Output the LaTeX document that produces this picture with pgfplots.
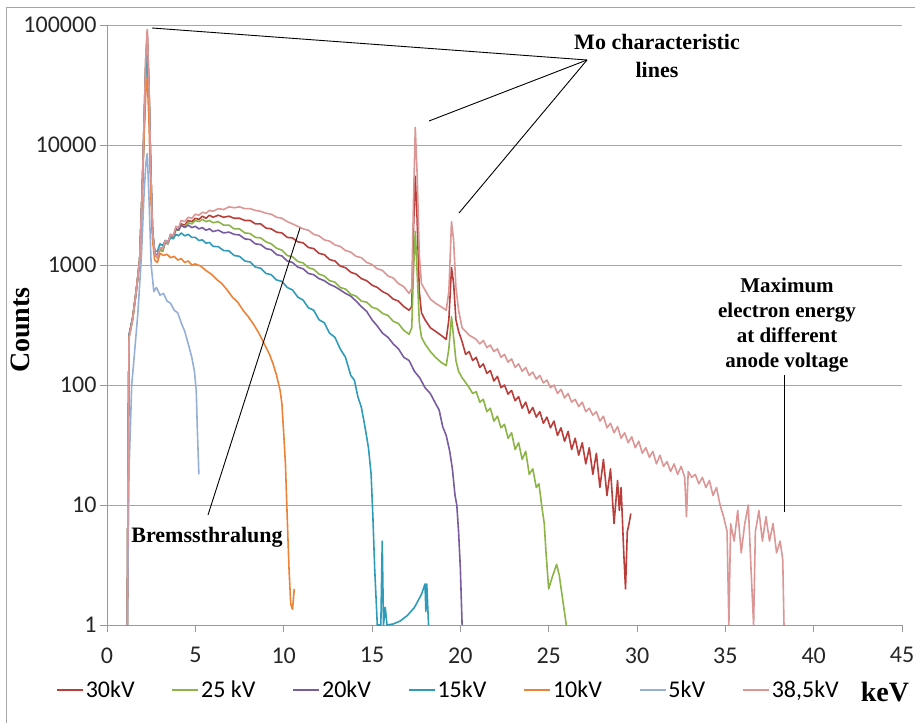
\documentclass[border=0pt]{standalone}
\usepackage{pgfplots}
\pgfplotsset{compat=1.18}
\usepackage{fontspec}
\setmainfont{Liberation Serif}
\newfontfamily\calibri{Carlito}
\definecolor{c30}{RGB}{185,62,58}
\definecolor{c25}{RGB}{140,180,70}
\definecolor{c20}{RGB}{120,92,160}
\definecolor{c15}{RGB}{48,155,185}
\definecolor{c10}{RGB}{236,130,55}
\definecolor{c5}{RGB}{150,175,215}
\definecolor{c385}{RGB}{220,150,150}
\begin{document}
\begin{tikzpicture}
\path[use as bounding box] (-107pt,-98pt) rectangle (808pt,625pt);
\draw[gray!70, line width=0.8pt] (-101pt,-98pt) -- (-101pt,618pt) -- (808pt,618pt);
\begin{axis}[
 scale only axis, width=795pt, height=600pt,
 xmin=0, xmax=45, ymin=1, ymax=100000, ymode=log,
 axis x line*=bottom, axis y line*=left,
 axis line style={gray!80, line width=0.8pt, -},
 xtick={0,5,...,45},
 ytick={1,10,100,1000,10000,100000},
 yticklabels={1,10,100,1000,10000,100000},
 yminorticks=false, xminorticks=false,
 tick align=outside, major tick length=7pt,
 tick style={gray!80, line width=0.8pt},
 ymajorgrids, major grid style={gray!70, line width=0.8pt},
 ticklabel style={font=\calibri\fontsize{24}{24}\selectfont, text=black!85},
 xticklabel style={yshift=-12pt},
 /pgf/number format/assume math mode=true,
 legend columns=-1,
 legend style={draw=none, fill=none, at={(-0.0642,-0.1083)}, anchor=west,
   font=\calibri\fontsize{24}{24}\selectfont, inner sep=0pt,
   nodes={inner sep=2pt},
   /tikz/every even column/.append style={column sep=35pt}},
 legend image code/.code={\draw[#1, line width=1.6pt] (0pt,0pt) -- (26pt,0pt);},
 every axis plot/.append style={line width=1.6pt, line join=round},
]
% 30 kV
\addplot[c30] coordinates {
(1.15,1)(1.2,30)(1.25,260)(1.45,360)(1.65,600)(1.85,1100)(2.0,4500)(2.1,16000)(2.2,55000)(2.28,88000)(2.38,30000)(2.48,6000)(2.58,1900)(2.7,1250)(2.85,1150)
(3.0,1350)(3.15,1300)(3.3,1550)(3.45,1500)(3.6,1750)(3.75,1700)(3.9,2000)(4.05,1950)(4.2,2200)(4.4,2150)(4.6,2350)(4.8,2300)(5.0,2450)(5.2,2400)(5.4,2550)(5.6,2450)(5.8,2600)(6.0,2500)(6.3,2600)(6.6,2500)(6.9,2550)(7.2,2450)(7.5,2450)(7.8,2350)(8.1,2350)(8.4,2200)(8.7,2200)(9.0,2030)(9.3,2000)(9.6,1880)(9.9,1850)
(10.2,1700)(10.5,1680)(10.8,1560)(11.1,1530)(11.4,1400)(11.7,1370)(12.0,1250)(12.3,1220)(12.6,1110)(12.9,1080)(13.2,980)(13.5,950)(13.8,870)(14.1,840)(14.4,770)(14.7,740)(15.0,680)(15.3,650)(15.6,600)(15.9,570)(16.2,520)(16.5,500)(16.8,450)(17.1,420)
(17.25,450)(17.35,2000)(17.45,5500)(17.55,2500)(17.68,600)(17.8,400)(18.0,350)(18.3,300)(18.6,280)(18.9,260)(19.2,240)(19.35,350)(19.5,950)(19.62,700)(19.75,350)(19.9,280)
(20.1,230)(20.3,180)(20.5,190)(20.7,160)(20.9,170)(21.1,140)(21.3,150)(21.5,125)(21.7,132)(21.9,108)(22.1,118)(22.3,95)(22.5,100)(22.7,84)(22.9,90)(23.1,74)(23.3,80)(23.5,64)(23.7,72)(23.9,58)(24.1,65)(24.3,54)(24.5,60)(24.7,48)(24.9,54)(25.1,44)(25.3,50)(25.5,38)(25.7,44)(25.9,34)(26.1,41)(26.3,29)(26.5,36)(26.7,26)(26.9,33)(27.1,22)(27.3,30)(27.5,18)(27.7,27)(27.9,14)(28.1,24)(28.3,12)(28.5,20)(28.7,7)(28.9,16)(29.0,9)(29.1,14)(29.25,4)(29.35,2)(29.45,6)(29.55,7)(29.65,8.5)
};
\addlegendentry{30kV}
% 25 kV
\addplot[c25] coordinates {
(1.15,1)(1.2,30)(1.25,260)(1.45,360)(1.65,600)(1.85,1100)(2.0,4500)(2.1,15000)(2.2,50000)(2.28,75000)(2.38,28000)(2.48,6000)(2.58,1900)(2.7,1250)(2.85,1150)
(3.0,1350)(3.15,1300)(3.3,1550)(3.45,1500)(3.6,1750)(3.75,1700)(3.9,1950)(4.05,1950)(4.2,2150)(4.4,2100)(4.6,2250)(4.8,2200)(5.0,2350)(5.2,2300)(5.4,2400)(5.6,2300)(5.8,2350)(6.0,2250)(6.3,2300)(6.6,2150)(6.9,2150)(7.2,2000)(7.5,2000)(7.8,1850)(8.1,1830)(8.4,1700)(8.7,1680)(9.0,1560)(9.3,1500)(9.6,1380)(9.9,1330)
(10.2,1200)(10.5,1170)(10.8,1070)(11.1,1040)(11.4,950)(11.7,920)(12.0,840)(12.3,810)(12.6,740)(12.9,720)(13.2,650)(13.5,630)(13.8,570)(14.1,550)(14.4,500)(14.7,490)(15.0,445)(15.3,430)(15.6,395)(15.9,380)(16.2,340)(16.5,325)(16.8,285)(17.1,265)
(17.25,300)(17.35,900)(17.45,1900)(17.55,900)(17.68,330)(17.8,250)(18.0,220)(18.3,190)(18.6,170)(18.9,155)(19.2,145)(19.35,200)(19.5,370)(19.62,250)(19.75,160)(19.9,130)
(20.1,115)(20.3,105)(20.5,95)(20.7,85)(20.9,88)(21.1,72)(21.3,76)(21.5,60)(21.7,64)(21.9,50)(22.1,55)(22.3,44)(22.5,47)(22.7,36)(22.9,40)(23.1,29)(23.3,33)(23.5,24)(23.7,28)(23.9,18)(24.1,20)(24.3,14)(24.45,15)(24.6,10)(24.75,7)(24.85,4)(25.0,2)(25.2,2.5)(25.45,3.2)(25.6,2.6)(25.8,1.6)(26.0,1)
};
\addlegendentry{25 kV}
% 20 kV
\addplot[c20] coordinates {
(1.15,1)(1.2,30)(1.25,260)(1.45,360)(1.65,600)(1.85,1100)(2.0,4500)(2.1,14000)(2.2,45000)(2.28,70000)(2.38,26000)(2.48,6000)(2.58,1900)(2.7,1250)(2.85,1200)
(3.0,1400)(3.15,1350)(3.3,1600)(3.45,1550)(3.6,1800)(3.75,1750)(3.9,2000)(4.05,1950)(4.2,2150)(4.4,2050)(4.6,2150)(4.8,2050)(5.0,2100)(5.2,2000)(5.4,2050)(5.6,1950)(5.8,2000)(6.0,1900)(6.3,1950)(6.6,1850)(6.9,1880)(7.2,1800)(7.5,1780)(7.8,1650)(8.1,1630)(8.4,1500)(8.7,1480)(9.0,1370)(9.3,1340)(9.6,1220)(9.9,1190)
(10.2,1080)(10.5,1050)(10.8,960)(11.1,930)(11.4,850)(11.7,830)(12.0,770)(12.3,740)(12.6,690)(12.9,660)(13.2,620)(13.5,580)(13.8,550)(14.1,500)(14.4,450)(14.7,410)(15.0,350)(15.3,310)(15.6,270)(15.9,250)(16.2,220)(16.5,200)(16.8,170)(17.1,160)(17.4,130)(17.7,115)(18.0,95)(18.3,85)(18.6,70)(18.8,62)(19.0,45)(19.2,38)(19.4,28)(19.55,20)(19.7,12)(19.8,10)(19.9,6)(20.0,3)(20.1,1)
};
\addlegendentry{20kV}
% 15 kV
\addplot[c15] coordinates {
(1.15,1)(1.2,30)(1.25,260)(1.45,360)(1.65,600)(1.85,1100)(2.0,4500)(2.1,13000)(2.2,40000)(2.28,60000)(2.38,24000)(2.48,5500)(2.58,1900)(2.7,1300)(2.85,1300)
(3.0,1500)(3.15,1450)(3.3,1600)(3.45,1550)(3.6,1700)(3.75,1650)(3.9,1800)(4.05,1750)(4.2,1850)(4.4,1750)(4.6,1800)(4.8,1700)(5.0,1700)(5.2,1600)(5.4,1620)(5.6,1520)(5.8,1540)(6.0,1430)(6.3,1420)(6.6,1320)(6.9,1310)(7.2,1200)(7.5,1180)(7.8,1080)(8.1,1060)(8.4,960)(8.7,940)(9.0,850)(9.3,830)(9.6,750)(9.9,730)
(10.2,650)(10.5,620)(10.8,540)(11.1,510)(11.4,440)(11.7,420)(12.0,350)(12.3,330)(12.6,270)(12.9,250)(13.2,200)(13.5,170)(13.8,120)(14.0,110)(14.2,80)(14.4,65)(14.6,45)(14.8,30)(14.95,18)(15.05,8)(15.15,3)(15.3,1)(15.5,1)(15.58,5)(15.65,1)(15.75,1.4)(15.85,1)(16.2,1.02)(16.6,1.08)(17.0,1.2)(17.4,1.4)(17.8,1.8)(18.0,2.2)(18.05,1.3)(18.1,2.2)(18.2,1)
};
\addlegendentry{15kV}
% 10 kV
\addplot[c10] coordinates {
(1.15,1)(1.2,30)(1.25,250)(1.45,350)(1.65,600)(1.85,1100)(2.0,4000)(2.1,12000)(2.2,28000)(2.28,36000)(2.38,15000)(2.48,4000)(2.58,1600)(2.7,1100)(2.85,1050)
(3.0,1250)(3.2,1200)(3.4,1230)(3.6,1150)(3.8,1180)(4.0,1100)(4.2,1130)(4.4,1050)(4.6,1080)(4.8,1000)(5.0,1020)(5.3,980)(5.6,900)(5.9,840)(6.2,760)(6.5,700)(6.8,620)(7.1,540)(7.4,490)(7.7,420)(8.0,370)(8.3,320)(8.6,270)(8.9,220)(9.2,180)(9.4,150)(9.6,120)(9.8,90)(9.9,70)(10.0,40)(10.1,22)(10.2,8)(10.3,3)(10.4,1.5)(10.5,1.35)(10.6,2.0)
};
\addlegendentry{10kV}
% 5 kV
\addplot[c5] coordinates {
(1.15,1)(1.25,20)(1.4,100)(1.55,180)(1.75,400)(1.95,1200)(2.1,4000)(2.2,7000)(2.28,8500)(2.38,3500)(2.5,1000)(2.65,600)(2.8,650)(3.0,560)(3.2,580)(3.4,500)(3.6,480)(3.8,420)(4.0,400)(4.2,330)(4.4,280)(4.6,220)(4.8,170)(4.95,130)(5.05,90)(5.12,40)(5.2,18)
};
\addlegendentry{5kV}
% 38.5 kV
\addplot[c385] coordinates {
(1.15,1)(1.2,30)(1.25,250)(1.45,350)(1.65,600)(1.85,1100)(2.0,4500)(2.1,16000)(2.2,55000)(2.28,92000)(2.38,30000)(2.48,6000)(2.58,1900)(2.7,1250)(2.85,1150)
(3.0,1400)(3.15,1350)(3.3,1600)(3.45,1550)(3.6,1800)(3.75,1750)(3.9,2100)(4.05,2050)(4.2,2350)(4.4,2300)(4.6,2500)(4.8,2450)(5.0,2650)(5.2,2600)(5.4,2750)(5.6,2700)(5.8,2850)(6.0,2800)(6.3,2950)(6.6,2900)(6.9,3050)(7.2,3000)(7.5,3050)(7.8,2950)(8.1,2950)(8.4,2850)(8.7,2800)(9.0,2700)(9.3,2650)(9.6,2500)(9.9,2450)
(10.2,2300)(10.5,2200)(10.8,2100)(11.1,2000)(11.4,1950)(11.7,1800)(12.0,1750)(12.3,1620)(12.6,1580)(12.9,1470)(13.2,1430)(13.5,1320)(13.8,1280)(14.1,1180)(14.4,1150)(14.7,1050)(15.0,1010)(15.3,930)(15.6,900)(15.9,810)(16.2,780)(16.5,700)(16.8,660)(17.1,580)
(17.25,640)(17.35,3500)(17.45,14000)(17.55,6000)(17.68,1200)(17.8,700)(18.0,620)(18.3,520)(18.6,480)(18.9,450)(19.2,420)(19.35,600)(19.5,2300)(19.62,1600)(19.75,650)(19.9,420)
(20.1,300)(20.3,280)(20.5,260)(20.7,250)(20.9,240)(21.1,220)(21.3,235)(21.5,205)(21.7,215)(21.9,190)(22.1,200)(22.3,170)(22.5,180)(22.7,155)(22.9,165)(23.1,140)(23.3,150)(23.5,130)(23.7,140)(23.9,120)(24.1,128)(24.3,112)(24.5,120)(24.7,104)(24.9,110)(25.1,95)(25.3,100)(25.5,85)(25.7,92)(25.9,78)(26.1,85)(26.3,72)(26.5,76)(26.7,66)(26.9,72)(27.1,60)(27.3,64)(27.5,56)(27.7,60)(27.9,50)(28.1,55)(28.3,44)(28.5,48)(28.7,40)(28.9,45)(29.1,36)(29.3,40)(29.5,33)(29.7,37)(29.9,30)
(30.1,34)(30.3,27)(30.5,30)(30.7,25)(30.9,28)(31.1,22)(31.3,26)(31.5,21)(31.7,23)(31.9,19)(32.1,22)(32.3,18)(32.5,21)(32.7,17)(32.8,8)(32.9,19)(33.1,17)(33.3,18)(33.5,15)(33.7,17)(33.9,14)(34.1,16)(34.3,12)(34.5,14)(34.7,10)(34.9,8)(35.1,6)(35.2,1)(35.3,7)(35.5,5)(35.7,9)(35.9,4)(36.1,7)(36.3,10)(36.45,3)(36.6,1)(36.7,6)(36.9,9)(37.1,5)(37.3,8)(37.5,5)(37.7,7)(37.9,4)(38.1,5)(38.25,3.5)(38.32,1)
};
\addlegendentry{38,5kV}
\end{axis}
% annotations
\begin{scope}[line width=0.9pt, black]
\draw (480pt,565pt) -- (45pt,597pt);
\draw (480pt,565pt) -- (322pt,504pt);
\draw (480pt,565pt) -- (352pt,412pt);
\draw (677pt,250pt) -- (677pt,113pt);
\draw (101pt,110pt) -- (193pt,397pt);
\end{scope}
\node[font=\bfseries\fontsize{22}{28}\selectfont, align=center] at (550pt,569pt) {Mo characteristic\\lines};
\node[font=\bfseries\fontsize{21}{25.3}\selectfont, align=center] at (680pt,300pt) {Maximum\\electron energy\\at different\\anode voltage};
\node[font=\bfseries\fontsize{22}{26}\selectfont] at (100pt,88pt) {Bremssthralung};
\node[font=\bfseries\fontsize{28}{30}\selectfont, rotate=90] at (-87pt,295pt) {Counts};
\node[font=\bfseries\fontsize{28}{30}\selectfont] at (778pt,-67pt) {keV};
\end{tikzpicture}
\end{document}
